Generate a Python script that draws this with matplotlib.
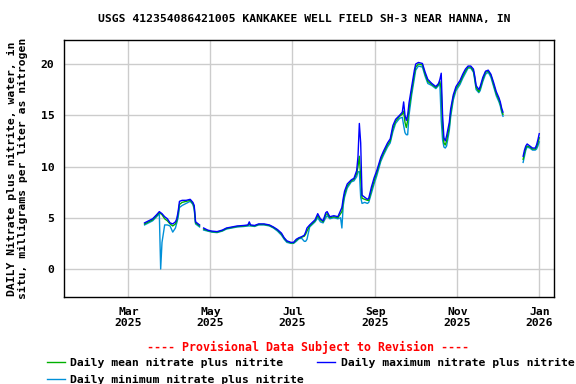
import numpy as np
import pandas as pd
import matplotlib
matplotlib.use("Agg")
import matplotlib.pyplot as plt
import matplotlib.dates as mdates

nan = np.nan

# daily values (mg/L as N)
dates = [
    "2025-03-13", "2025-03-16", "2025-03-19", "2025-03-22", "2025-03-24", "2025-03-25",
    "2025-03-26", "2025-03-28", "2025-03-30", "2025-04-01", "2025-04-03", "2025-04-05",
    "2025-04-06", "2025-04-07", "2025-04-08", "2025-04-10", "2025-04-13", "2025-04-16",
    "2025-04-18", "2025-04-19", "2025-04-20", "2025-04-22", "2025-04-23", "2025-04-24",
    "2025-04-26", "2025-04-29", "2025-05-02", "2025-05-06", "2025-05-10", "2025-05-13",
    "2025-05-17", "2025-05-21", "2025-05-26", "2025-05-29", "2025-05-30", "2025-05-31",
    "2025-06-03", "2025-06-06", "2025-06-10", "2025-06-14", "2025-06-17", "2025-06-20",
    "2025-06-23", "2025-06-25", "2025-06-27", "2025-06-30", "2025-07-02", "2025-07-04",
    "2025-07-06", "2025-07-08", "2025-07-10", "2025-07-11", "2025-07-12", "2025-07-14",
    "2025-07-18", "2025-07-20", "2025-07-22", "2025-07-24", "2025-07-26", "2025-07-27",
    "2025-07-29", "2025-08-01", "2025-08-04", "2025-08-06", "2025-08-07", "2025-08-08",
    "2025-08-09", "2025-08-11", "2025-08-14", "2025-08-16", "2025-08-18", "2025-08-19",
    "2025-08-20", "2025-08-21", "2025-08-22", "2025-08-24", "2025-08-26", "2025-08-27",
    "2025-08-29", "2025-08-31", "2025-09-02", "2025-09-05", "2025-09-07", "2025-09-10",
    "2025-09-12", "2025-09-14", "2025-09-16", "2025-09-19", "2025-09-21", "2025-09-22",
    "2025-09-23", "2025-09-24", "2025-09-25", "2025-09-26", "2025-09-28", "2025-09-30",
    "2025-10-01", "2025-10-03", "2025-10-06", "2025-10-08", "2025-10-10", "2025-10-13",
    "2025-10-16", "2025-10-18", "2025-10-19", "2025-10-20", "2025-10-21", "2025-10-22",
    "2025-10-23", "2025-10-24", "2025-10-26", "2025-10-27", "2025-10-29", "2025-10-31",
    "2025-11-03", "2025-11-05", "2025-11-07", "2025-11-09", "2025-11-11", "2025-11-13",
    "2025-11-14", "2025-11-15", "2025-11-17", "2025-11-18", "2025-11-20", "2025-11-22",
    "2025-11-24", "2025-11-26", "2025-11-28", "2025-11-30", "2025-12-02", "2025-12-03",
    "2025-12-04", "2025-12-05", "2025-12-06", "2025-12-20", "2025-12-21", "2025-12-22",
    "2025-12-23", "2025-12-25", "2025-12-27", "2025-12-29", "2025-12-30", "2025-12-31",
    "2026-01-01",
]

max_vals = [
    4.5, 4.7, 4.9, 5.3, 5.6, 5.5,
    5.4, 5.1, 4.9, 4.5, 4.4, 4.6,
    4.9, 5.6, 6.6, 6.7, 6.7, 6.8,
    6.5, 6.2, 4.6, 4.4, 4.3, nan,
    4.0, 3.8, 3.7, 3.65, 3.8, 4.0,
    4.1, 4.2, 4.25, 4.3, 4.6, 4.3,
    4.25, 4.4, 4.4, 4.3, 4.1, 3.85,
    3.5, 3.05, 2.75, 2.6, 2.6, 2.9,
    3.05, 3.15, 3.3, 3.6, 4.0, 4.3,
    4.8, 5.4, 4.9, 4.7, 5.5, 5.6,
    5.1, 5.2, 5.1, 5.7, 6.0, 6.9,
    7.6, 8.3, 8.7, 8.85, 9.6, 11.0,
    14.2, 12.3, 7.2, 7.0, 6.8, 6.9,
    8.0, 8.9, 9.6, 10.9, 11.5, 12.3,
    12.7, 14.0, 14.6, 15.0, 15.3, 16.3,
    15.0, 14.5, 15.0, 16.2, 17.8, 19.4,
    20.0, 20.15, 20.05, 19.2, 18.5, 18.1,
    17.8, 18.1, 18.5, 19.1, 15.0, 12.8,
    12.5, 13.0, 14.3, 15.6, 17.0, 17.8,
    18.4, 19.0, 19.5, 19.8, 19.8, 19.5,
    18.8, 17.9, 17.5, 17.8, 18.7, 19.3,
    19.4, 19.0, 18.2, 17.3, 16.7, 16.3,
    15.7, 15.3, nan, 11.0, 11.6, 12.0,
    12.2, 12.0, 11.8, 11.8, 12.1, 12.6,
    13.2,
]

mean_vals = [
    4.4, 4.6, 4.8, 5.2, 5.5, 5.4,
    5.3, 4.9, 4.7, 4.4, 4.2, 4.4,
    4.7, 5.4, 6.3, 6.5, 6.6, 6.7,
    6.4, 6.0, 4.5, 4.3, 4.2, nan,
    3.9, 3.75, 3.65, 3.6, 3.75, 3.95,
    4.05, 4.15, 4.2, 4.25, 4.4, 4.25,
    4.2, 4.35, 4.35, 4.25, 4.05, 3.8,
    3.4, 3.0, 2.7, 2.55, 2.55, 2.8,
    3.0, 3.1, 3.2, 3.4, 3.7, 4.2,
    4.7, 5.2, 4.8, 4.6, 5.3, 5.4,
    5.0, 5.1, 5.0, 5.4, 5.6, 6.6,
    7.3, 8.1, 8.6, 8.75, 9.3, 10.0,
    11.0, 9.0, 6.9, 6.8, 6.7, 6.7,
    7.7, 8.6, 9.4, 10.7, 11.3, 12.1,
    12.5, 13.7, 14.4, 14.9, 15.1, 15.4,
    14.3, 13.8, 14.5, 15.6, 17.4, 19.0,
    19.7, 20.0, 19.9, 19.0, 18.3, 18.0,
    17.7, 18.0, 18.3, 17.5, 13.8, 12.3,
    12.1, 12.5, 13.9, 15.2, 16.8, 17.6,
    18.2, 18.8, 19.3, 19.7, 19.7, 19.3,
    18.6, 17.7, 17.3, 17.6, 18.5, 19.2,
    19.3, 18.9, 18.0, 17.1, 16.5, 16.1,
    15.5, 15.1, nan, 10.7, 11.3, 11.8,
    12.0, 11.9, 11.7, 11.7, 11.9, 12.3,
    12.8,
]

min_vals = [
    4.3, 4.5, 4.7, 5.1, 5.4, 0.0,
    2.6, 4.3, 4.3, 4.2, 3.6, 4.0,
    4.5, 5.0, 6.0, 6.2, 6.4, 6.6,
    6.3, 5.8, 4.4, 4.2, 4.1, nan,
    3.8, 3.7, 3.6, 3.55, 3.7, 3.9,
    4.0, 4.1, 4.15, 4.2, 4.2, 4.2,
    4.15, 4.3, 4.3, 4.2, 4.0, 3.7,
    3.3, 2.9, 2.6, 2.5, 2.5, 2.7,
    2.95, 3.0, 2.7, 2.7, 2.9, 4.1,
    4.6, 5.0, 4.6, 4.5, 5.0, 5.2,
    4.9, 5.0, 4.9, 5.0, 4.0, 6.2,
    7.0, 7.9, 8.5, 8.6, 9.0, 9.5,
    9.5, 7.0, 6.4, 6.5, 6.4, 6.5,
    7.4, 8.3, 9.1, 10.5, 11.1, 11.9,
    12.3, 13.4, 14.2, 14.7, 14.8, 14.0,
    13.3, 13.1, 13.1, 15.0, 17.0, 18.6,
    19.4, 19.8, 19.7, 18.8, 18.1, 17.9,
    17.6, 17.9, 18.0, 14.5, 12.6, 11.9,
    11.8, 12.0, 13.5, 14.8, 16.5, 17.4,
    18.0, 18.6, 19.1, 19.6, 19.6, 19.2,
    18.4, 17.5, 17.2, 17.4, 18.3, 19.0,
    19.2, 18.7, 17.8, 16.9, 16.3, 15.9,
    15.3, 14.9, nan, 10.4, 11.0, 11.6,
    11.9, 11.8, 11.6, 11.6, 11.7, 12.0,
    12.4,
]

title = "USGS 412354086421005 KANKAKEE WELL FIELD SH-3 NEAR HANNA, IN"
ylabel = "DAILY Nitrate plus nitrite, water, in\nsitu, milligrams per liter as nitrogen"
labels = ["Daily mean nitrate plus nitrite",
          "Daily maximum nitrate plus nitrite",
          "Daily minimum nitrate plus nitrite"]

x = pd.to_datetime(dates)

plt.rcParams['font.family'] = 'DejaVu Sans Mono'
plt.rcParams['font.weight'] = 'bold'
plt.rcParams['font.size'] = 8.2

fig = plt.figure(figsize=(5.76, 3.84), dpi=100)
ax = fig.add_axes([64 / 576, 87 / 384, 490 / 576, 257 / 384])

l_min, = ax.plot(x, min_vals, color='#0090d8', lw=1.0)
l_mean, = ax.plot(x, mean_vals, color='#00b000', lw=1.0)
l_max, = ax.plot(x, max_vals, color='#0000ff', lw=1.0)

ax.set_xlim(pd.Timestamp("2025-01-12"), pd.Timestamp("2026-01-12"))
ax.set_ylim(-2.73, 22.34)
ax.set_yticks([0, 5, 10, 15, 20])
ax.xaxis.set_major_locator(mdates.MonthLocator(bymonth=[1, 3, 5, 7, 9, 11]))
ax.xaxis.set_major_formatter(mdates.DateFormatter('%b\n%Y'))
ax.grid(True, color='#cccccc', lw=1.0)
ax.set_axisbelow(True)
ax.tick_params(axis='both', direction='in', length=0, pad=7)
for s in ax.spines.values():
    s.set_linewidth(1.0)

fig.text(304 / 576, 1 - 19 / 384, title, ha='center', va='center',
         fontsize=8.2, fontweight='bold')
ax.set_ylabel(ylabel, fontsize=8.2, fontweight='bold', labelpad=9, linespacing=1.1)

fig.text(308 / 576, 1 - 347 / 384, "---- Provisional Data Subject to Revision ----",
         color='red', ha='center', va='center', fontsize=8.4, fontweight='bold')

fig.legend([l_mean, l_min, l_max], labels[0:1] + labels[2:3] + labels[1:2],
           ncol=2, loc='upper left', bbox_to_anchor=(47 / 576, 1 - 358 / 384),
           frameon=False, handlelength=1.6, handletextpad=0.45,
           columnspacing=1.15, labelspacing=0.62, borderaxespad=0, borderpad=0)

fig.savefig("out.png", dpi=100)
